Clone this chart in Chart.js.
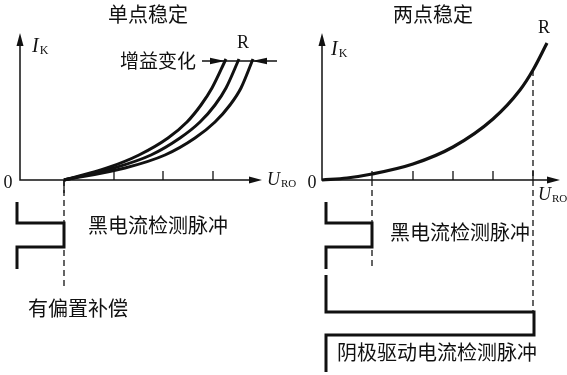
<!DOCTYPE html>
<html>
<head>
<meta charset="utf-8">
<script src="https://cdn.jsdelivr.net/npm/chart.js@4.4.0/dist/chart.umd.min.js"></script>
<style>
  html, body { margin: 0; padding: 0; background: #fff; }
</style>
</head>
<body>
<canvas id="c" width="567" height="375"></canvas>
<script>
// units: x = U_RO measured from each panel's I_K axis, y = I_K above the U_RO axis
// (negative y is the pulse timing strip under the plot)

// left panel: single point stabilisation, three gain variants
const leftTicks = [44, 94, 143, 193];
const leftCurveY = [0, 12, 25, 42, 58, 75, 92, 121];
const leftCurveX = [
  [44, 87, 119, 148, 167, 181, 192, 206],
  [44, 94, 131, 160, 180, 195, 206, 219],
  [44, 105, 145, 175, 195, 210, 221, 233]
];

// right panel: two point stabilisation
const rightTicks = [50, 91, 131, 171, 211];
const rightCurveX = [0, 25, 50, 91, 131, 171, 198, 211, 225];
const rightCurveY = [0, 2, 6, 16, 33, 61, 90, 110, 137];

// detection pulses
const blackPulseY = [-22, -43, -43, -67, -67, -89];
const leftBlackPulseX = [-3, -3, 44, 44, -3, -3];
const rightBlackPulseX = [4, 4, 50, 50, 4, 4];
const cathodePulseX = [4, 4, 212, 212, 4, 4];
const cathodePulseY = [-95, -132, -132, -155, -155, -192];

const ink = '#111';
const cjk = '"Noto Sans CJK SC", sans-serif';
const serif = '"Liberation Serif", "DejaVu Serif", serif';

function pts(xs, ys) {
  return xs.map((x, i) => ({ x: x, y: ys[i] }));
}

function line(xs, ys, axis, width, dash, smooth) {
  return {
    data: pts(xs, ys),
    xAxisID: axis,
    borderColor: ink,
    borderWidth: width,
    borderDash: dash || [],
    pointRadius: 0,
    fill: false,
    cubicInterpolationMode: smooth ? 'monotone' : 'default',
    tension: 0
  };
}

const datasets = [
  ...leftCurveX.map(xs => line(xs, leftCurveY, 'x', 3, null, true)),
  line(rightCurveX, rightCurveY, 'x2', 3.2, null, true),
  line(leftBlackPulseX, blackPulseY, 'x', 3),
  line(rightBlackPulseX, blackPulseY, 'x2', 3),
  line(cathodePulseX, cathodePulseY, 'x2', 3),
  line([leftTicks[0], leftTicks[0]], [0, -110], 'x', 1.3, [6, 4]),
  line([rightTicks[0], rightTicks[0]], [0, -88], 'x2', 1.3, [6, 4]),
  line([rightTicks[4], rightTicks[4]], [rightCurveY[7], -132], 'x2', 1.3, [6, 4])
];

function arrow(ctx, tx, ty, dx, dy, len, half) {
  const bx = tx - dx * len, by = ty - dy * len;
  ctx.beginPath();
  ctx.moveTo(tx, ty);
  ctx.lineTo(bx - dy * half, by + dx * half);
  ctx.lineTo(bx + dy * half, by - dx * half);
  ctx.closePath();
  ctx.fill();
}

function subLabel(ctx, x, y, main, sub, size) {
  ctx.textAlign = 'left';
  ctx.textBaseline = 'alphabetic';
  ctx.font = 'italic ' + size + 'px ' + serif;
  ctx.fillText(main, x, y);
  const w = ctx.measureText(main).width;
  ctx.font = Math.round(size * 0.6) + 'px ' + serif;
  ctx.fillText(sub, x + w + 1, y + 2);
}

const diagram = {
  id: 'diagram',
  afterDatasetsDraw(chart) {
    const ctx = chart.ctx;
    const sy = chart.scales.y;
    const panels = [
      { sx: chart.scales.x, ticks: leftTicks, xEnd: 242, yEnd: 147 },
      { sx: chart.scales.x2, ticks: rightTicks, xEnd: 238, yEnd: 147 }
    ];
    ctx.save();
    ctx.fillStyle = ink;
    ctx.strokeStyle = ink;
    panels.forEach(p => {
      const ox = p.sx.getPixelForValue(0), oy = sy.getPixelForValue(0);
      const xe = p.sx.getPixelForValue(p.xEnd), ye = sy.getPixelForValue(p.yEnd);
      ctx.lineWidth = 1.5;
      ctx.beginPath();
      ctx.moveTo(ox, ye + 6); ctx.lineTo(ox, oy); ctx.lineTo(xe - 6, oy);
      ctx.stroke();
      arrow(ctx, ox, ye, 0, -1, 13, 3.5);
      arrow(ctx, xe, oy, 1, 0, 13, 3.5);
      ctx.lineWidth = 1.3;
      p.ticks.forEach((t, i) => {
        const tx = p.sx.getPixelForValue(t);
        ctx.beginPath();
        if (p === panels[0] && i === 0) {
          ctx.moveTo(tx, oy); ctx.lineTo(tx, oy + 13);
        } else {
          ctx.moveTo(tx, oy); ctx.lineTo(tx, oy - 9);
        }
        ctx.stroke();
      });
    });

    const L = chart.scales.x, R = chart.scales.x2;
    const px = (s, v) => s.getPixelForValue(v);
    const py = v => sy.getPixelForValue(v);

    // gain variation marker
    ctx.lineWidth = 1.3;
    ctx.beginPath();
    ctx.moveTo(px(L, 182), py(119)); ctx.lineTo(px(L, 257), py(119));
    ctx.stroke();
    arrow(ctx, px(L, 205), py(119), 1, 0, 15, 3.2);
    arrow(ctx, px(L, 232), py(119), -1, 0, 15, 3.2);

    // serif symbols
    subLabel(ctx, px(L, 12), py(128), 'I', 'K', 20);
    subLabel(ctx, px(R, 9), py(125), 'I', 'K', 20);
    subLabel(ctx, px(L, 247), py(-5), 'U', 'RO', 18);
    subLabel(ctx, px(R, 216), py(-20), 'U', 'RO', 18);
    ctx.font = '18px ' + serif;
    ctx.textAlign = 'center';
    ctx.textBaseline = 'middle';
    ctx.fillText('0', px(L, -12), py(-3));
    ctx.fillText('0', px(R, -10), py(-3));
    ctx.fillText('R', px(L, 223), py(137));
    ctx.fillText('R', px(R, 222), py(152));

    // chinese captions
    ctx.font = '20px ' + cjk;
    ctx.fillText('单点稳定', px(L, 128), py(166));
    ctx.fillText('两点稳定', px(R, 111), py(166));
    ctx.font = '19px ' + cjk;
    ctx.fillText('增益变化', px(L, 138), py(119));
    ctx.font = '20px ' + cjk;
    ctx.textAlign = 'left';
    ctx.fillText('黑电流检测脉冲', px(L, 68), py(-45));
    ctx.fillText('黑电流检测脉冲', px(R, 68), py(-52));
    ctx.fillText('有偏置补偿', px(L, 8), py(-128));
    ctx.fillText('阴极驱动电流检测脉冲', px(R, 15), py(-172));
    ctx.restore();
  }
};

new Chart(document.getElementById('c'), {
  type: 'line',
  data: { datasets: datasets },
  options: {
    responsive: false,
    animation: false,
    devicePixelRatio: 1,
    events: [],
    layout: { padding: 0 },
    plugins: { legend: { display: false }, tooltip: { enabled: false } },
    scales: {
      x: { type: 'linear', min: -20, max: 547, display: false },
      x2: { type: 'linear', min: -322, max: 245, display: false },
      y: { type: 'linear', min: -195, max: 180, display: false }
    }
  },
  plugins: [diagram]
});
</script>
</body>
</html>
